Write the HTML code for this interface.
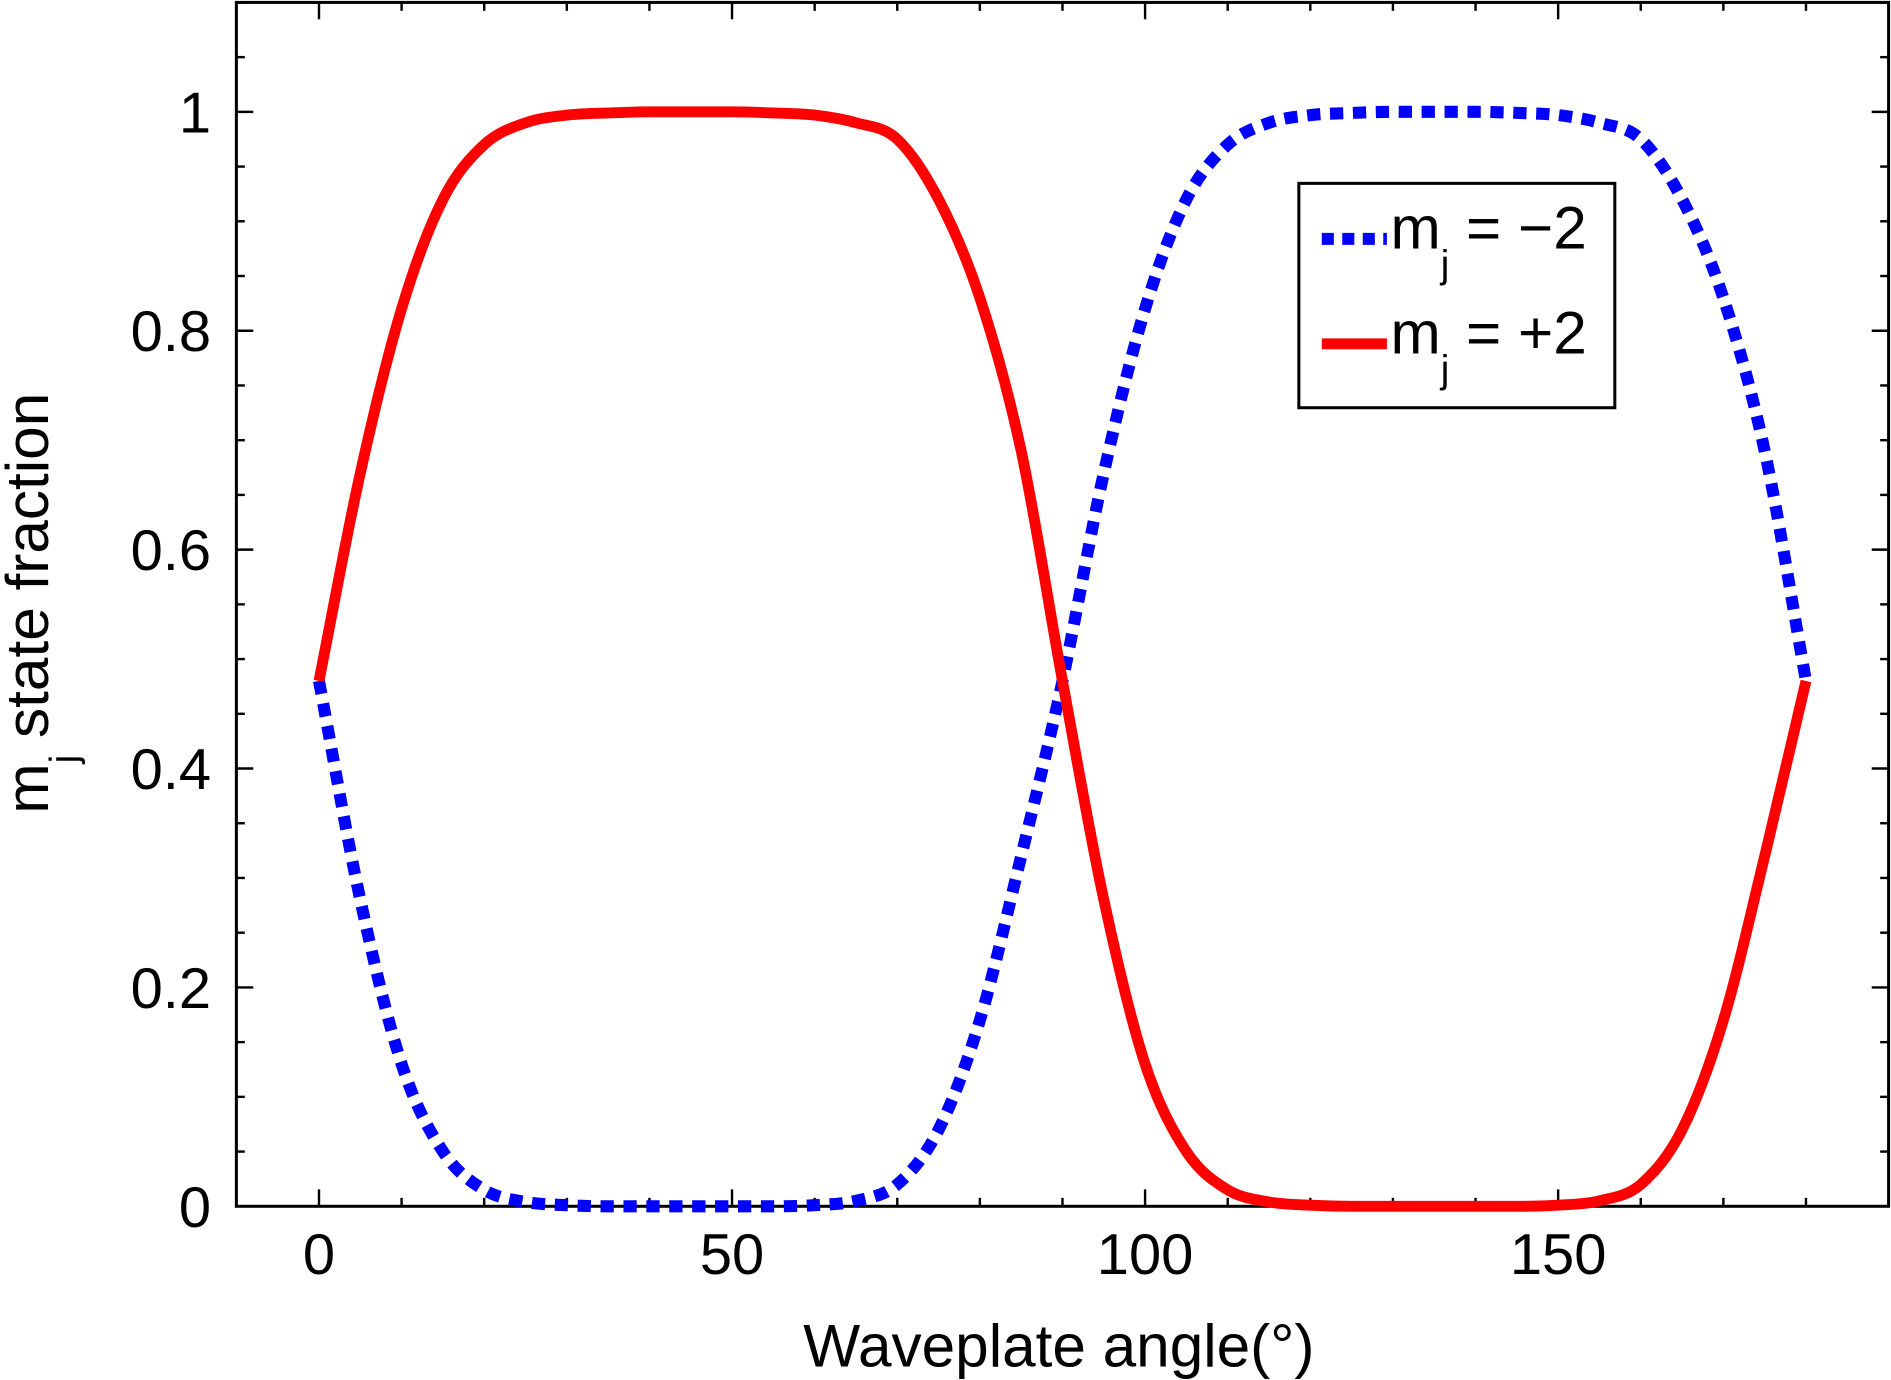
<!DOCTYPE html>
<html><head><meta charset="utf-8"><style>
html,body{margin:0;padding:0;background:#fff}
svg{display:block}
text{font-family:"Liberation Sans",sans-serif;fill:#000}
</style></head><body>
<svg width="1891" height="1380" viewBox="0 0 1568 1144" preserveAspectRatio="none" xmlns="http://www.w3.org/2000/svg">
<g id="axes"></g>
<g id="series"></g>
<g id="legend">
  <rect x="1077" y="152" width="262" height="186" fill="#fff" stroke="#000" stroke-width="2.5"/>
  <line x1="1096" y1="198" x2="1150" y2="198" stroke="#00f" stroke-width="10" stroke-dasharray="10,7"/>
  <text x="1153" y="206" font-size="50">m<tspan dy="24" font-size="32">j</tspan><tspan dy="-24"> = −2</tspan></text>
  <line x1="1096" y1="285" x2="1150" y2="285" stroke="#f00" stroke-width="9"/>
  <text x="1153" y="293" font-size="50">m<tspan dy="24" font-size="32">j</tspan><tspan dy="-24"> = +2</tspan></text>
</g>
<text x="878" y="1133" font-size="50" text-anchor="middle">Waveplate angle(°)</text>
<text transform="translate(40,500) rotate(-90)" font-size="50" text-anchor="middle">m<tspan dy="24" font-size="32">j</tspan><tspan dy="-24"> state fraction</tspan></text>
</svg>
<script>
const angles=[0,5,10,15,20,25,30,35,40,45,50,55,60,65,70,75,80,85,90,95,100,105,110,115,120,125,130,135,140,145,150,155,160,165,170,175,180];
const plus2=[0.48,0.67,0.82,0.92,0.97,0.99,0.997,0.999,1,1,1,0.999,0.997,0.99,0.975,0.92,0.83,0.69,0.48,0.28,0.13,0.05,0.015,0.004,0.001,0,0,0,0,0,0.001,0.005,0.02,0.07,0.17,0.32,0.48];
const minus2=[0.48,0.28,0.13,0.05,0.015,0.004,0.001,0,0,0,0,0,0.001,0.005,0.02,0.07,0.17,0.32,0.48,0.67,0.82,0.92,0.97,0.99,0.997,0.999,1,1,1,0.999,0.997,0.99,0.975,0.92,0.83,0.69,0.48];
const xTicks=[0,50,100,150];
const yTicks=[0,0.2,0.4,0.6,0.8,1];
const yTickLabels=["0","0.2","0.4","0.6","0.8","1"];
const X0=196,X1=1566,Y0=1000,Y1=2,xmin=-10,xmax=190,ymin=0,ymax=1.1;
function sx(v){return X0+(v-xmin)/(xmax-xmin)*(X1-X0);}
function sy(v){return Y0-(v-ymin)/(ymax-ymin)*(Y0-Y1);}
const NS="http://www.w3.org/2000/svg";
const axes=document.getElementById('axes'),series=document.getElementById('series');
function mk(tag,attrs,parent){const e=document.createElementNS(NS,tag);for(const k in attrs)e.setAttribute(k,attrs[k]);parent.appendChild(e);return e;}
const frame=mk('rect',{x:X0,y:Y1,width:X1-X0,height:Y0-Y1,fill:'none',stroke:'#000','stroke-width':2.5},axes);


for(let v=0;v<=180;v+=10){
  const major=v%50===0,L=major?14:7;
  const t=mk('line',{x1:sx(v),x2:sx(v),y1:Y0,y2:Y0-L,stroke:'#000','stroke-width':2},axes);
  
  
  const t2=mk('line',{x1:sx(v),x2:sx(v),y1:Y1,y2:Y1+L,stroke:'#000','stroke-width':2},axes);
  
  
}
xTicks.forEach(v=>{
  const t=mk('text',{x:sx(v),y:1056,'font-size':48,'text-anchor':'middle'},axes);
  t.textContent=String(v);
  
  
});
for(let i=0;i<=22;i++){
  const v=i*0.05,major=i%4===0,L=major?14:7;
  const t=mk('line',{x1:X0,x2:X0+L,y1:sy(v),y2:sy(v),stroke:'#000','stroke-width':2},axes);
  
  
  const t2=mk('line',{x1:X1,x2:X1-L,y1:sy(v),y2:sy(v),stroke:'#000','stroke-width':2},axes);
  
  
}
yTicks.forEach((v,i)=>{
  const t=mk('text',{x:175,y:sy(v)+17,'font-size':48,'text-anchor':'end'},axes);
  t.textContent=yTickLabels[i];
  
  
});
// monotone cubic (Fritsch-Carlson) smoothing for rendering
function path(vals){
  const n=angles.length,xs=angles.map(sx),ys=vals.map(sy);
  const d=[],m=new Array(n);
  for(let i=0;i<n-1;i++)d.push((ys[i+1]-ys[i])/(xs[i+1]-xs[i]));
  m[0]=d[0];m[n-1]=d[n-2];
  for(let i=1;i<n-1;i++){m[i]=(d[i-1]*d[i]<=0)?0:(d[i-1]+d[i])/2;}
  for(let i=0;i<n-1;i++){
    if(d[i]===0){m[i]=0;m[i+1]=0;continue;}
    const a=m[i]/d[i],b=m[i+1]/d[i],s=a*a+b*b;
    if(s>9){const t=3/Math.sqrt(s);m[i]=t*a*d[i];m[i+1]=t*b*d[i];}
  }
  let p='M'+xs[0].toFixed(1)+','+ys[0].toFixed(1);
  for(let i=0;i<n-1;i++){
    const h=(xs[i+1]-xs[i])/3;
    p+=' C'+(xs[i]+h).toFixed(1)+','+(ys[i]+m[i]*h).toFixed(1)+' '+(xs[i+1]-h).toFixed(1)+','+(ys[i+1]-m[i+1]*h).toFixed(1)+' '+xs[i+1].toFixed(1)+','+ys[i+1].toFixed(1);
  }
  return p;
}
const pb=mk('path',{d:path(minus2),fill:'none',stroke:'#00f','stroke-width':10,'stroke-dasharray':'11,8','stroke-linejoin':'round'},series);


const pr=mk('path',{d:path(plus2),fill:'none',stroke:'#f00','stroke-width':9,'stroke-linejoin':'round'},series);


</script>
</body></html>
